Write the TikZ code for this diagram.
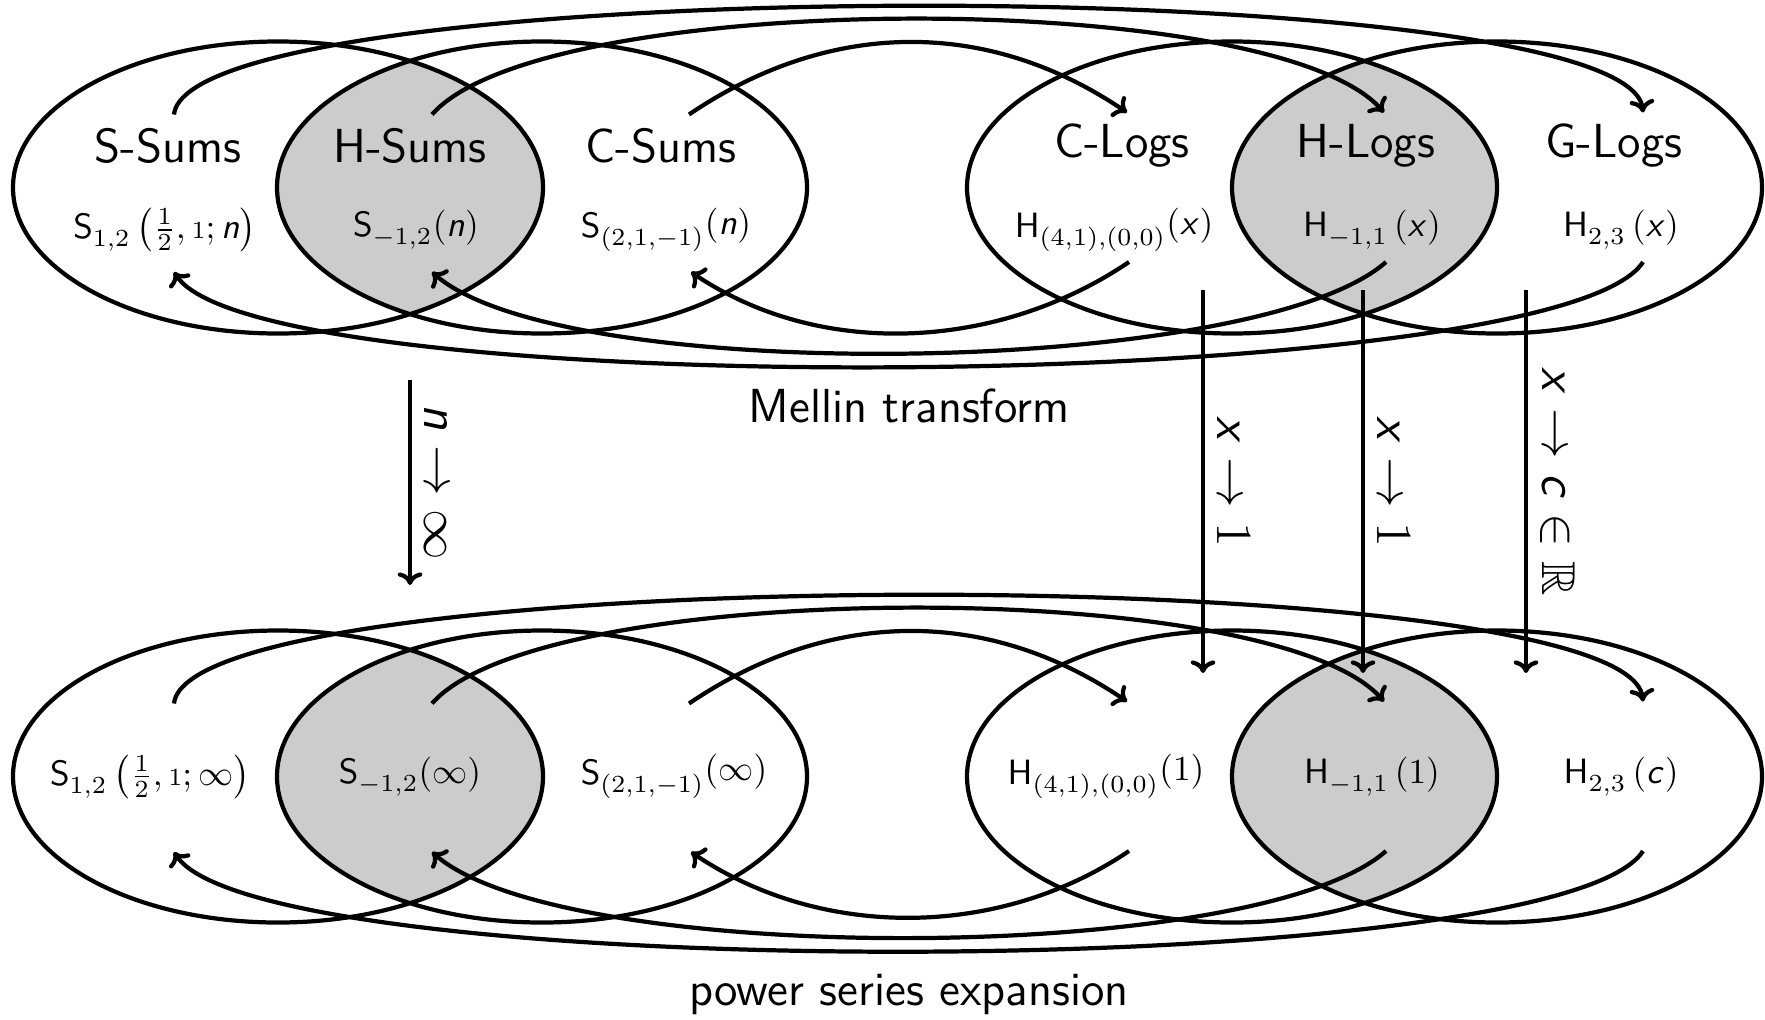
\documentclass[tikz,border=0pt]{standalone}
\usepackage{amsmath,amssymb}
\usetikzlibrary{arrows.meta}
\DeclareMathAlphabet{\mathsfit}{OT1}{cmss}{m}{sl}
\newcommand{\sfS}{\mathsf{S}}
\newcommand{\sfH}{\mathsf{H}}
\newcommand{\vn}{\mathsfit{n}}
\newcommand{\vx}{\mathsfit{x}}
\newcommand{\vc}{\mathsfit{c}}
\newcommand{\fm}[1]{$\fontdimen16\textfont2=2.3pt\fontdimen17\textfont2=2.3pt #1$}
\newcommand{\up}[1]{\raisebox{1pt}{$#1$}}
\tikzset{
  lens/.style={fill=black!20},
  setline/.style={line width=1.2pt},
  flow/.style={-{To[length=3.6pt,width=7pt]}, line width=1.2pt},
  title/.style={font=\fontsize{13.6}{16}\selectfont\sffamily, inner sep=0pt},
  formula/.style={font=\fontsize{10.4}{12}\selectfont, inner sep=0pt},
  caption/.style={font=\fontsize{13.6}{16}\selectfont\sffamily, anchor=base, inner sep=0pt},
  limlab/.style={font=\fontsize{13.5}{16}\selectfont, rotate=-90, anchor=south, inner sep=3.5pt}
}
% one row of four sets with the arcs; #1 prefix, #2 centre y, #3 y of return tips
\newcommand{\setrow}[3]{%
\begin{scope}[shift={(0,#2)}]
  \begin{scope}
    \clip (2.78,0) ellipse [x radius=2.65, y radius=1.46];
    \fill[lens] (5.42,0) ellipse [x radius=2.65, y radius=1.46];
  \end{scope}
  \begin{scope}
    \clip (12.32,0) ellipse [x radius=2.65, y radius=1.46];
    \fill[lens] (14.97,0) ellipse [x radius=2.65, y radius=1.46];
  \end{scope}
  \draw[setline] (2.78,0) ellipse [x radius=2.65, y radius=1.46];
  \draw[setline] (5.42,0) ellipse [x radius=2.65, y radius=1.46];
  \draw[setline] (12.32,0) ellipse [x radius=2.65, y radius=1.46];
  \draw[setline] (14.97,0) ellipse [x radius=2.65, y radius=1.46];
  \coordinate (#1sa) at (1.74,0.73);
  \coordinate (#1sb) at (4.32,0.73);
  \coordinate (#1sc) at (6.89,0.73);
  \coordinate (#1ec) at (11.27,0.75);
  \coordinate (#1eb) at (13.84,0.75);
  \coordinate (#1ea) at (16.43,0.75);
  \coordinate (#1rf) at (11.29,-0.745);
  \coordinate (#1re) at (13.86,-0.745);
  \coordinate (#1rd) at (16.43,-0.745);
  \coordinate (#1tf) at (6.91,#3);
  \coordinate (#1te) at (4.32,#3);
  \coordinate (#1td) at (1.74,#3);
\end{scope}
\draw[flow] (#1sa) .. controls +(0.15,1.43) and +(-0.15,1.43) .. (#1ea);
\draw[flow] (#1sb) .. controls +(1.1,1.26) and +(-1.1,1.26) .. (#1eb);
\draw[flow] (#1sc) .. controls +(1.4,0.95) and +(-1.4,0.95) .. (#1ec);
\draw[flow] (#1rf) .. controls +(-1.3,-0.88) and +(1.3,-0.88) .. (#1tf);
\draw[flow] (#1re) .. controls +(-1.3,-1.15) and +(1.3,-1.15) .. (#1te);
\draw[flow] (#1rd) .. controls +(-0.85,-1.33) and +(0.85,-1.33) .. (#1td);
}
\begin{document}
\begin{tikzpicture}
\useasboundingbox (0,0) rectangle (17.65,-10.19);
\setrow{u}{-1.875}{-0.845}
\setrow{l}{-7.765}{-0.755}
% upper titles
\node[title] (tSS) at (1.68,-1.46) {S-Sums};
\node[title] (tHS) at (4.10,-1.46) {H-Sums};
\node[title] (tCS) at (6.61,-1.46) {C-Sums};
\node[title] (tCL) at (11.22,-1.46) {C-Logs};
\node[title] (tHL) at (13.66,-1.46) {H-Logs};
\node[title] (tGL) at (16.14,-1.46) {G-Logs};
% upper formulas
\node[formula] (fu1) at (1.65,-2.30) {\fm{\sfS_{1,2}\left(\tfrac{1}{2},{\scriptstyle 1};\vn\right)}};
\node[formula] (fu2) at (4.16,-2.30) {\fm{\sfS_{-1,2}(\vn)}};
\node[formula] (fu3) at (6.66,-2.30) {\fm{\sfS_{(2,1,-1)}\up{(\vn)}}};
\node[formula] (fu4) at (11.14,-2.30) {\fm{\sfH_{(4,1),(0,0)}\up{(\vx)}}};
\node[formula] (fu5) at (13.72,-2.30) {\fm{\sfH_{-1,1}\,(\vx)}};
\node[formula] (fu6) at (16.21,-2.30) {\fm{\sfH_{2,3}\,(\vx)}};
% lower formulas
\node[formula] (fl1) at (1.50,-7.765) {\fm{\sfS_{1,2}\left(\tfrac{1}{2},{\scriptstyle 1};\infty\right)}};
\node[formula] (fl2) at (4.10,-7.765) {\fm{\sfS_{-1,2}(\infty)}};
\node[formula] (fl3) at (6.74,-7.765) {\fm{\sfS_{(2,1,-1)}\up{(\infty)}}};
\node[formula] (fl4) at (11.06,-7.765) {\fm{\sfH_{(4,1),(0,0)}\up{(1)}}};
\node[formula] (fl5) at (13.72,-7.765) {\fm{\sfH_{-1,1}\,(1)}};
\node[formula] (fl6) at (16.21,-7.765) {\fm{\sfH_{2,3}\,(\vc)}};
% captions
\node[caption] (mellin) at (9.09,-4.22) {Mellin transform};
\node[caption] (pse) at (9.09,-10.05) {power series expansion};
% limits
\coordinate (nT) at (4.10,-3.80);  \coordinate (nB) at (4.10,-5.85);
\coordinate (x1T) at (12.03,-2.90); \coordinate (x1B) at (12.03,-6.73);
\coordinate (x2T) at (13.63,-2.90); \coordinate (x2B) at (13.63,-6.73);
\coordinate (x3T) at (15.26,-2.90); \coordinate (x3B) at (15.26,-6.73);
\draw[flow] (nT) -- node[limlab] (ln) {$\vn\to\infty$} (nB);
\draw[flow] (x1T) -- node[limlab] (lx1) {$\vx\to1$} (x1B);
\draw[flow] (x2T) -- node[limlab] (lx2) {$\vx\to1$} (x2B);
\draw[flow] (x3T) -- node[limlab] (lx3) {$\vx\to\vc\in\mathbb{R}$} (x3B);
\end{tikzpicture}
\end{document}
